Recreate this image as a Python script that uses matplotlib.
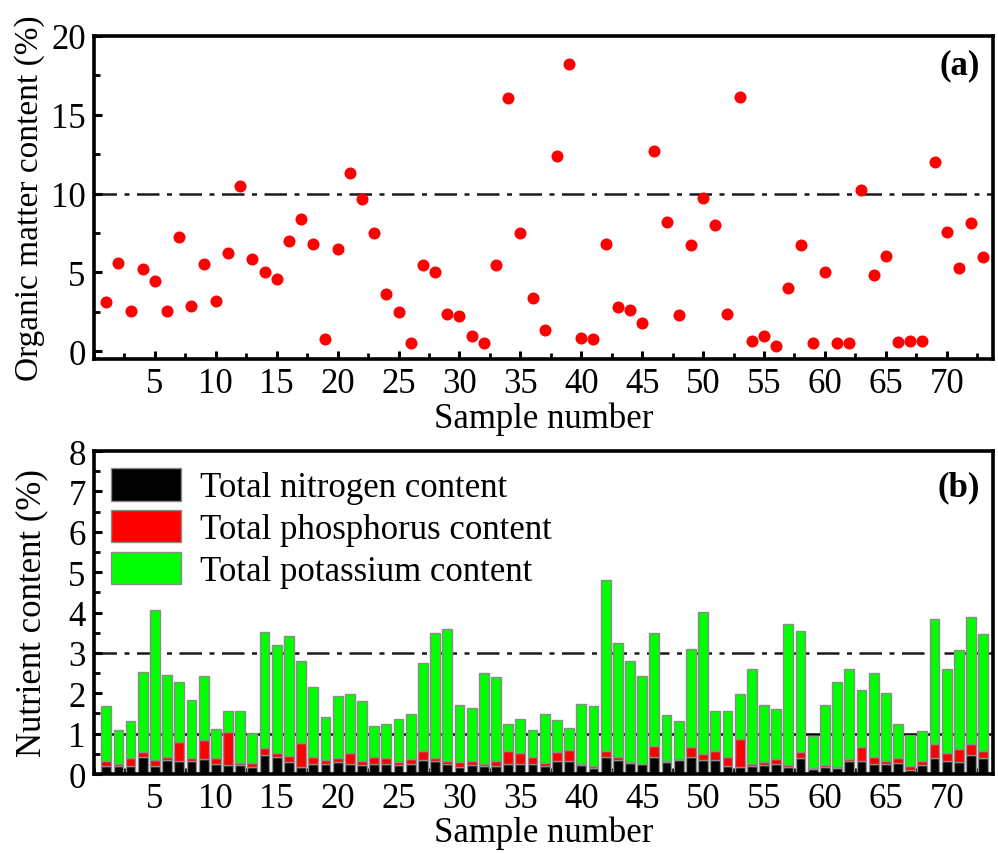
import numpy as np
import matplotlib.pyplot as plt
from matplotlib.ticker import MultipleLocator

plt.rcParams['font.family'] = ['Liberation Serif', 'DejaVu Serif']
plt.rcParams['font.size'] = 25

# sample numbers 1..73
samples = np.arange(1, 74)

# (a) organic matter content (%)
organic = [3.11, 5.58, 2.52, 5.22, 4.42, 2.52, 7.23, 2.86, 5.54, 3.15,
           6.23, 10.5, 5.85, 5.01, 4.59, 6.99, 8.39, 6.80, 0.79, 6.49,
           11.28, 9.67, 7.52, 3.60, 2.46, 0.54, 5.47, 5.01, 2.35, 2.20,
           0.98, 0.54, 5.45, 16.04, 7.48, 3.39, 1.32, 12.37, 18.24, 0.81,
           0.79, 6.82, 2.77, 2.63, 1.76, 12.67, 8.22, 2.31, 6.76, 9.72,
           7.99, 2.37, 16.13, 0.62, 0.96, 0.30, 4.02, 6.76, 0.52, 5.05,
           0.52, 0.54, 10.2, 4.86, 6.02, 0.60, 0.63, 0.62, 11.97, 7.54,
           5.30, 8.13, 5.94]

# (b) nutrient content (%)
nitrogen = [0.20, 0.20, 0.20, 0.41, 0.20, 0.35, 0.31, 0.31, 0.37, 0.26,
            0.22, 0.22, 0.18, 0.47, 0.43, 0.30, 0.18, 0.24, 0.25, 0.30,
            0.24, 0.22, 0.26, 0.26, 0.22, 0.26, 0.35, 0.32, 0.26, 0.18,
            0.22, 0.20, 0.20, 0.26, 0.26, 0.25, 0.20, 0.32, 0.32, 0.22,
            0.15, 0.43, 0.34, 0.28, 0.24, 0.43, 0.29, 0.35, 0.43, 0.35,
            0.35, 0.20, 0.18, 0.20, 0.22, 0.26, 0.18, 0.40, 0.12, 0.18,
            0.14, 0.32, 0.32, 0.24, 0.25, 0.28, 0.10, 0.22, 0.39, 0.32,
            0.30, 0.47, 0.40]
phosphorus = [0.11, 0.05, 0.20, 0.13, 0.15, 0.06, 0.49, 0.09, 0.46, 0.14,
              0.83, 0.06, 0.10, 0.17, 0.08, 0.15, 0.60, 0.19, 0.10, 0.09,
              0.29, 0.11, 0.16, 0.14, 0.07, 0.12, 0.22, 0.08, 0.06, 0.11,
              0.11, 0.05, 0.12, 0.31, 0.25, 0.16, 0.08, 0.22, 0.27, 0.03,
              0.04, 0.14, 0.07, 0.02, 0.02, 0.26, 0.04, 0.03, 0.24, 0.14,
              0.22, 0.21, 0.68, 0.04, 0.08, 0.10, 0.05, 0.14, 0.04, 0.04,
              0.04, 0.05, 0.36, 0.19, 0.06, 0.11, 0.10, 0.09, 0.35, 0.20,
              0.32, 0.27, 0.17]
potassium = [1.38, 0.83, 0.92, 1.98, 3.72, 2.05, 1.49, 1.44, 1.60, 0.71,
             0.50, 1.27, 0.74, 2.88, 2.69, 2.96, 2.03, 1.72, 1.07, 1.55,
             1.44, 1.49, 0.78, 0.85, 1.08, 1.11, 2.18, 3.09, 3.26, 1.42,
             1.30, 2.25, 2.08, 0.66, 0.86, 0.68, 1.21, 0.80, 0.54, 1.49,
             1.50, 4.23, 2.83, 2.50, 2.16, 2.81, 1.12, 0.93, 2.42, 3.53,
             0.99, 1.15, 1.13, 2.35, 1.41, 1.24, 3.49, 3.01, 0.79, 1.49,
             2.09, 2.23, 1.41, 2.06, 1.70, 0.84, 0.76, 0.76, 3.10, 2.08,
             2.44, 3.16, 2.89]

nitrogen = np.array(nitrogen)
phosphorus = np.array(phosphorus)
potassium = np.array(potassium)

fig = plt.figure(figsize=(9.98, 8.54), dpi=100)
ax1 = fig.add_axes([0.0942, 0.5785, 0.9008, 0.3782])
ax2 = fig.add_axes([0.0942, 0.0925, 0.9008, 0.3782])

dashdot = (0, (9, 3, 2, 3))

# panel (a)
ax1.scatter(samples, organic, s=75, color='#ff0000', zorder=3, linewidths=0)
ax1.axhline(10, color='#1a1a1a', lw=1.8, ls=dashdot, zorder=1)
ax1.set_xlim(0, 73.8)
ax1.set_ylim(-0.5, 20)
ax1.yaxis.set_major_locator(MultipleLocator(5))
ax1.yaxis.set_minor_locator(MultipleLocator(2.5))
ax1.set_ylabel('Organic matter content (%)', fontsize=24, labelpad=4)
ax1.set_xlabel('Sample number', labelpad=1)
ax1.text(0.985, 0.91, '(a)', transform=ax1.transAxes, ha='right', va='center',
         fontweight='bold')

# panel (b)
w = 0.8
ax2.axhline(3, color='#1a1a1a', lw=1.8, ls=dashdot, zorder=1)
ax2.axhline(1, color='black', lw=1.8, zorder=1)
ax2.bar(samples, nitrogen, width=w, color='black', edgecolor='#8c8c8c',
        lw=1, zorder=2, label='Total nitrogen content')
ax2.bar(samples, phosphorus, width=w, bottom=nitrogen, color='#ff0000',
        edgecolor='#8c8c8c', lw=1, zorder=2, label='Total phosphorus content')
ax2.bar(samples, potassium, width=w, bottom=nitrogen + phosphorus,
        color='#00ff00', edgecolor='#8c8c8c', lw=1, zorder=2,
        label='Total potassium content')
ax2.set_xlim(0, 73.8)
ax2.set_ylim(0, 8)
ax2.yaxis.set_major_locator(MultipleLocator(1))
ax2.yaxis.set_minor_locator(MultipleLocator(0.5))
ax2.set_ylabel('Nutrient content (%)', labelpad=14)
ax2.set_xlabel('Sample number', labelpad=0)
ax2.text(0.985, 0.89, '(b)', transform=ax2.transAxes, ha='right', va='center',
         fontweight='bold')
ax2.legend(loc='upper left', frameon=False, handlelength=2.0,
           handleheight=1.05, labelspacing=0.17, handletextpad=0.55,
           borderaxespad=0.4, borderpad=0.1)

for ax in (ax1, ax2):
    ax.xaxis.set_minor_locator(MultipleLocator(2.5))
    ax.set_xticks(np.arange(5, 75, 5))
    ax.tick_params(which='major', direction='in', length=6, width=2.2,
                   pad=6)
    ax.tick_params(which='minor', direction='in', length=4, width=2)
    for sp in ax.spines.values():
        sp.set_linewidth(2.6)

fig.savefig('out.png', dpi=100)
